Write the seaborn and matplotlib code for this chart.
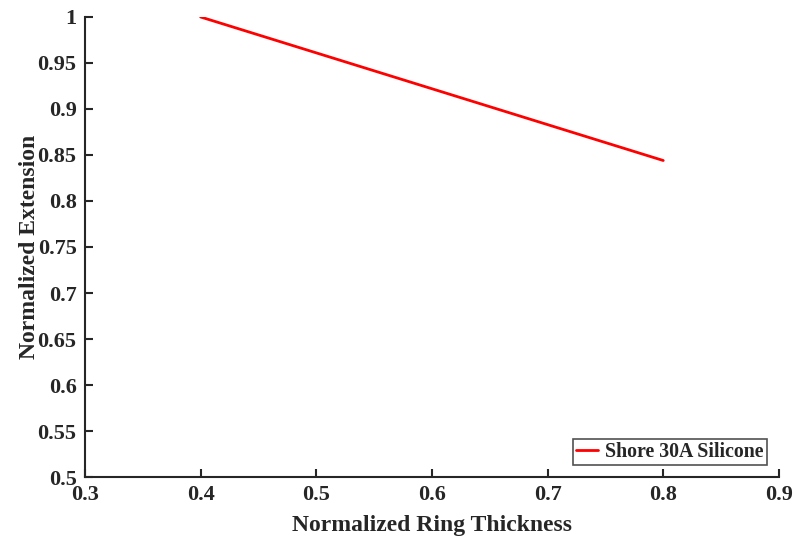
import matplotlib
matplotlib.use("Agg")
import matplotlib.pyplot as plt
import seaborn as sns
import pandas as pd

thickness = [0.4, 0.8]
extension = [1.0, 0.844]
series_name = "Shore 30A Silicone"

sns.set_theme(style="ticks")
plt.rcParams['font.family'] = ['Liberation Serif', 'DejaVu Serif']
plt.rcParams['font.weight'] = 'bold'

df = pd.DataFrame({"x": thickness, "y": extension, "s": series_name})

fig = plt.figure(figsize=(7.94, 5.39), dpi=100)
ax = fig.add_axes([0.107, 0.115, 0.874, 0.8535])
sns.lineplot(data=df, x="x", y="y", hue="s", palette=["#ff0000"], linewidth=2, ax=ax)

ax.set_xlim(0.3, 0.9)
ax.set_ylim(0.5, 1.0)
ax.set_xticks([0.3, 0.4, 0.5, 0.6, 0.7, 0.8, 0.9])
ax.set_xticklabels(["0.3", "0.4", "0.5", "0.6", "0.7", "0.8", "0.9"])
yt = [0.5, 0.55, 0.6, 0.65, 0.7, 0.75, 0.8, 0.85, 0.9, 0.95, 1.0]
ax.set_yticks(yt)
ax.set_yticklabels(["0.5", "0.55", "0.6", "0.65", "0.7", "0.75", "0.8", "0.85", "0.9", "0.95", "1"])
ax.tick_params(direction="in", length=6, width=1.5, labelsize=16, colors="#262626", labelcolor="#262626")
ax.tick_params(axis="x", pad=6)
ax.tick_params(axis="y", pad=6)
for lab in ax.get_xticklabels() + ax.get_yticklabels():
    lab.set_fontweight("bold")
for s in ["top", "right"]:
    ax.spines[s].set_visible(False)
for s in ["left", "bottom"]:
    ax.spines[s].set_linewidth(1.5)
    ax.spines[s].set_color("#262626")

ax.set_xlabel("Normalized Ring Thickness", fontsize=17, fontweight="bold", color="#262626", labelpad=7)
ax.set_ylabel("Normalized Extension", fontsize=17, fontweight="bold", color="#262626", labelpad=-2)

leg = ax.legend(loc="lower right", bbox_to_anchor=(0.988, 0.018), fontsize=14.3, frameon=True,
                fancybox=False, edgecolor="#262626", handlelength=1.1, borderpad=0.15,
                handletextpad=0.35, borderaxespad=0.2)
leg.get_frame().set_linewidth(1.2)
for t in leg.get_texts():
    t.set_fontweight("bold")

fig.savefig("out.png", dpi=100)
